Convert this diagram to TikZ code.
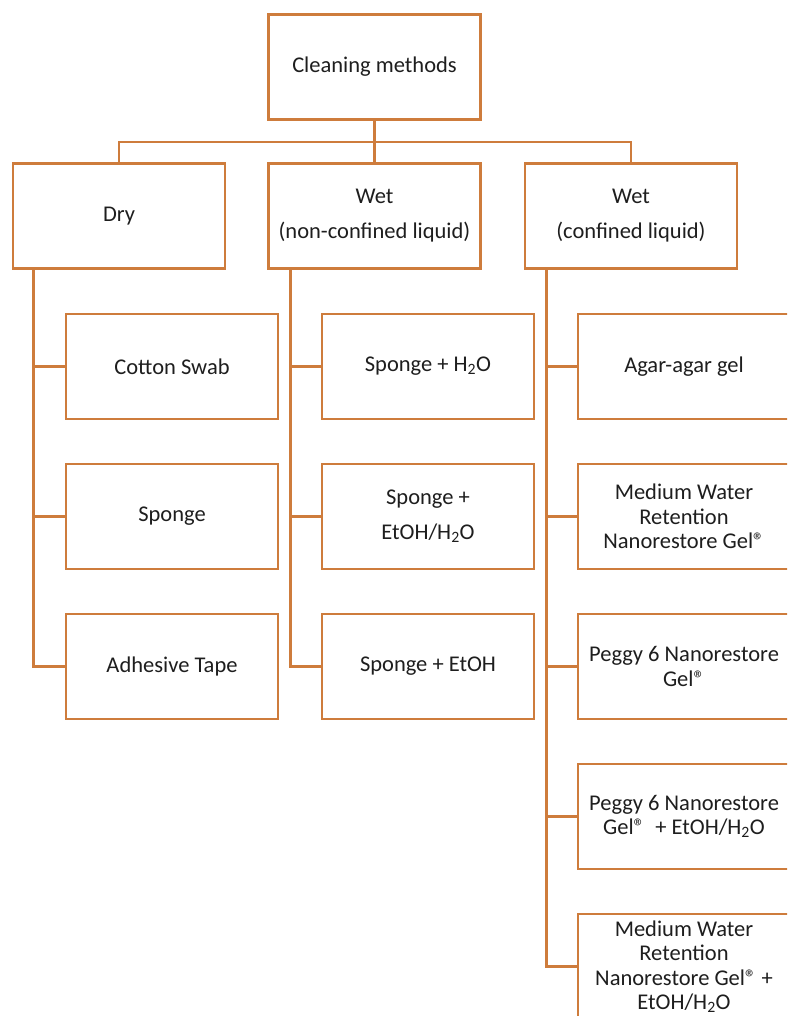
\documentclass[tikz,border=0pt]{standalone}
\usepackage{fontspec}
\setmainfont{Carlito}
\definecolor{boxorange}{RGB}{206,124,60}
\definecolor{txt}{RGB}{30,30,30}
\newcommand{\regmark}{®}
\tikzset{
  box/.style={draw=boxorange, line width=2.6pt, fill=white, rectangle,
    minimum width=212pt, minimum height=105pt, inner sep=2pt, align=center,
    text=txt, font=\fontsize{22.5}{24.5}\selectfont},
  widebox/.style={box, font=\fontsize{22.5}{35}\selectfont},
  link/.style={draw=boxorange, line width=2.6pt},
}
\begin{document}
\begin{tikzpicture}[x=1pt,y=-1pt]
\clip (0,0) rectangle (787,1016);
\fill[white] (0,0) rectangle (787,1016);
% top
\node[box] (top) at (374.5,67) {Cleaning methods};
% level 1
\node[box] (dry) at (119,216) {Dry};
\node[widebox] (wetn) at (374.5,216) {Wet\\(non-confined liquid)};
\node[widebox] (wetc) at (631,216) {Wet\\(confined liquid)};
% left children
\node[box] (d1) at (172,366.5) {Cotton Swab};
\node[box] (d2) at (172,516.5) {Sponge};
\node[box] (d3) at (172,666.5) {Adhesive Tape};
% middle children
\node[box] (n1) at (428,366.5) {Sponge + H\textsubscript{2}O};
\node[widebox] (n2) at (428,516.5) {Sponge +\\EtOH/H\textsubscript{2}O};
\node[box] (n3) at (428,666.5) {Sponge + EtOH};
% right children
\node[box] (c1) at (684,366.5) {Agar-agar gel};
\node[box] (c2) at (684,516.5) {Medium Water\\Retention\\Nanorestore Gel\regmark};
\node[box] (c3) at (684,666.5) {Peggy 6 Nanorestore\\Gel\regmark};
\node[box] (c4) at (684,816.5) {Peggy 6 Nanorestore\\Gel\regmark\ \ + EtOH/H\textsubscript{2}O};
\node[box] (c5) at (684,966.5) {Medium Water\\Retention\\Nanorestore Gel\regmark\ +\\EtOH/H\textsubscript{2}O};
% bus
\coordinate (bus) at (374.5,142);
\draw[link] (top.south) -- (wetn.north);
\draw[link] (dry.north) -- (dry.north |- bus) -- (wetc.north |- bus) -- (wetc.north);
% spines
\coordinate (sL) at ([xshift=22pt]dry.south west);
\coordinate (sM) at ([xshift=23pt]wetn.south west);
\coordinate (sR) at ([xshift=23pt]wetc.south west);
\draw[link] (sL) |- (d3.west);
\draw[link] (d1.west) -- (d1.west -| sL);
\draw[link] (d2.west) -- (d2.west -| sL);
\draw[link] (sM) |- (n3.west);
\draw[link] (n1.west) -- (n1.west -| sM);
\draw[link] (n2.west) -- (n2.west -| sM);
\draw[link] (sR) |- (c5.west);
\draw[link] (c1.west) -- (c1.west -| sR);
\draw[link] (c2.west) -- (c2.west -| sR);
\draw[link] (c3.west) -- (c3.west -| sR);
\draw[link] (c4.west) -- (c4.west -| sR);
\end{tikzpicture}
\end{document}
